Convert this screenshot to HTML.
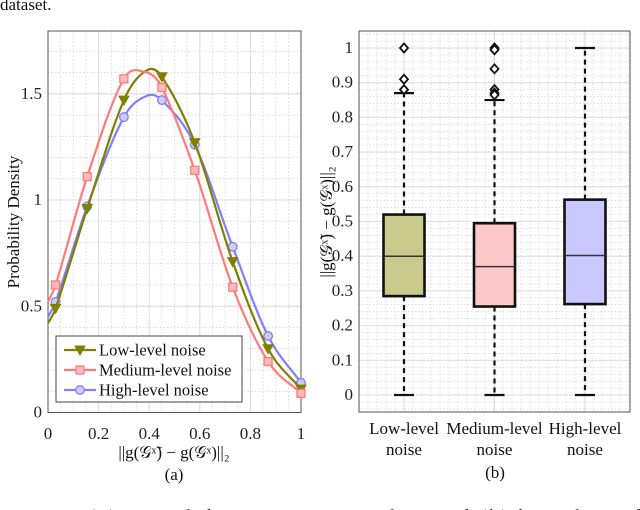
<!DOCTYPE html>
<html><head><meta charset="utf-8">
<style>
body{margin:0;background:#fff;}
svg{display:block;}
svg text{font-family:"Liberation Serif","DejaVu Serif",serif;}
</style></head>
<body>
<svg id="fig" width="640" height="510" viewBox="0 0 640 510" font-family="Liberation Serif, serif">
<text x="0" y="10" font-size="17" fill="#111">dataset.</text>
<g id="left"></g>
<g id="right"></g>
<text x="0" y="521" font-size="17" fill="#111" textLength="640" lengthAdjust="spacing">Fig. 10. (a) Kernel density estimate plots and (b) box plots of</text>
</svg>
<script>
// ---- KDE chart data ----
const kdeX = [0, 0.03, 0.155, 0.30, 0.39, 0.45, 0.58, 0.73, 0.87, 1.0];
const lowKde = [0.42, 0.49, 0.96, 1.47, 1.61, 1.58, 1.27, 0.71, 0.30, 0.11];
const medKde = [0.52, 0.60, 1.11, 1.57, 1.60, 1.53, 1.14, 0.59, 0.24, 0.09];
const highKde = [0.45, 0.52, 0.97, 1.39, 1.49, 1.47, 1.26, 0.78, 0.36, 0.14];
const markerIdx = [1, 2, 3, 5, 6, 7, 8, 9];
const kdeXTicks = [0, 0.2, 0.4, 0.6, 0.8, 1];
const kdeXTickLabels = ["0", "0.2", "0.4", "0.6", "0.8", "1"];
const kdeYTicks = [0, 0.5, 1, 1.5];
const kdeYTickLabels = ["0", "0.5", "1", "1.5"];
const seriesNames = ["Low-level noise", "Medium-level noise", "High-level noise"];

// ---- Box chart data ----
const boxCats = [["Low-level", "noise"], ["Medium-level", "noise"], ["High-level", "noise"]];
const boxQ1 = [0.285, 0.255, 0.262];
const boxMed = [0.40, 0.37, 0.402];
const boxQ3 = [0.52, 0.495, 0.563];
const boxLo = [0, 0, 0];
const boxHi = [0.87, 0.85, 1.0];
const boxOut = [[1.0, 0.91, 0.88], [1.0, 0.995, 0.94, 0.88, 0.87, 0.865], []];
const boxYTicks = [0, 0.1, 0.2, 0.3, 0.4, 0.5, 0.6, 0.7, 0.8, 0.9, 1];
const boxYTickLabels = ["0", "0.1", "0.2", "0.3", "0.4", "0.5", "0.6", "0.7", "0.8", "0.9", "1"];

const NS = "http://www.w3.org/2000/svg";
const FF = "Liberation Serif, DejaVu Serif, serif";
function mk(parent, tag, attrs, text) {
  const e = document.createElementNS(NS, tag);
  for (const k in attrs) e.setAttribute(k, attrs[k]);
  if (tag === "text") e.setAttribute("font-family", FF);
  if (text !== undefined) e.textContent = text;
  parent.appendChild(e);
  return e;
}

// ===== Left chart =====
const L = document.getElementById("left");
const lx0 = 48, lx1 = 301, ly0 = 412.5, lyTop = 31;
const lsx = v => lx0 + v * (lx1 - lx0);
const lsy = v => ly0 - v * 212.5;
for (let v = 0.05; v < 1; v += 0.05) {
  const g = mk(L, "line", {x1: lsx(v), x2: lsx(v), y1: lyTop, y2: ly0, stroke: "#cfcfcf", "stroke-width": 0.7, "stroke-dasharray": "1.5,2"});
  
  
}
for (let v = 0.1; v < 1.79; v += 0.1) {
  const g = mk(L, "line", {x1: lx0, x2: lx1, y1: lsy(v), y2: lsy(v), stroke: "#cfcfcf", "stroke-width": 0.7, "stroke-dasharray": "1.5,2"});
  
  
}
kdeXTicks.forEach((v, i) => {
  const g = mk(L, "line", {x1: lsx(v), x2: lsx(v), y1: lyTop, y2: ly0, stroke: "#dcdcdc", "stroke-width": 1});
  
  
  const t = mk(L, "text", {x: lsx(v), y: 439, "font-size": 17, "text-anchor": "middle", fill: "#222"}, kdeXTickLabels[i]);
  
  
});
kdeYTicks.forEach((v, i) => {
  const g = mk(L, "line", {x1: lx0, x2: lx1, y1: lsy(v), y2: lsy(v), stroke: "#dcdcdc", "stroke-width": 1});
  
  
  const t = mk(L, "text", {x: 42, y: lsy(v) + 5, "font-size": 17, "text-anchor": "end", fill: "#222"}, kdeYTickLabels[i]);
  
  
});
const lframe = mk(L, "rect", {x: lx0, y: lyTop, width: lx1 - lx0, height: ly0 - lyTop, fill: "none", stroke: "#555", "stroke-width": 1});



function smoothPath(xs, ys) {
  const n = xs.length;
  const m = xs.map((x, i) => {
    const a = Math.max(0, i - 1), b = Math.min(n - 1, i + 1);
    return (ys[b] - ys[a]) / (xs[b] - xs[a]);
  });
  let d = "M" + lsx(xs[0]) + "," + lsy(ys[0]);
  for (let i = 0; i < n - 1; i++) {
    const h = xs[i + 1] - xs[i];
    const c1x = xs[i] + h / 3, c1y = ys[i] + m[i] * h / 3;
    const c2x = xs[i + 1] - h / 3, c2y = ys[i + 1] - m[i + 1] * h / 3;
    d += ` C${lsx(c1x)},${lsy(c1y)} ${lsx(c2x)},${lsy(c2y)} ${lsx(xs[i + 1])},${lsy(ys[i + 1])}`;
  }
  return d;
}
function marker(parent, type, x, y, color) {
  let m;
  if (type === "tri") m = mk(parent, "path", {d: `M${x-5},${y-4} L${x+5},${y-4} L${x},${y+5} Z`, fill: color, stroke: color, "stroke-width": 1});
  else if (type === "sq") m = mk(parent, "rect", {x: x - 4, y: y - 4, width: 8, height: 8, fill: "#fbb", stroke: color, "stroke-width": 1.3});
  else m = mk(parent, "circle", {cx: x, cy: y, r: 4.3, fill: "#ccf", stroke: color, "stroke-width": 1.3});
  return m;
}
const seriesData = [lowKde, medKde, highKde];
const seriesColor = ["#808000", "#ff7b7b", "#7f7fff"];
const seriesMarker = ["tri", "sq", "circ"];
const drawOrder = [2, 0, 1];
drawOrder.forEach(s => {
  const g = mk(L, "g", {});
  
  
  const path = mk(g, "path", {d: smoothPath(kdeX, seriesData[s]), fill: "none", stroke: seriesColor[s], "stroke-width": 2.2});
  
  
  markerIdx.forEach(i => {
    const m = marker(g, seriesMarker[s], lsx(kdeX[i]), lsy(seriesData[s][i]), seriesColor[s]);
    
    
  });
});
const lg = mk(L, "g", {});


mk(lg, "rect", {x: 56, y: 336, width: 186, height: 66, fill: "#fff", stroke: "#444", "stroke-width": 1});
seriesNames.forEach((n, s) => {
  const y = 350 + s * 20;
  const e = mk(lg, "g", {});
  
  
  mk(e, "line", {x1: 64, x2: 96, y1: y, y2: y, stroke: seriesColor[s], "stroke-width": 2.2});
  marker(e, seriesMarker[s], 80, y, seriesColor[s]);
  mk(e, "text", {x: 99, y: y + 5.5, "font-size": 16.5, fill: "#111"}, n);
});
const ylab = mk(L, "text", {x: 0, y: 0, "font-size": 17, "text-anchor": "middle", fill: "#111", transform: "translate(19,222) rotate(-90)"}, "Probability Density");


const xlab = mk(L, "text", {x: 174, y: 458, "font-size": 17, "text-anchor": "middle", fill: "#111"}, "||g(𝒢ˣ̃) − g(𝒢ˣ)||₂");


const capA = mk(L, "text", {x: 174, y: 480, "font-size": 17, "text-anchor": "middle", fill: "#111"}, "(a)");



// ===== Right chart =====
const R = document.getElementById("right");
const rx0 = 359, rx1 = 630, rTop = 31, rBot = 412;
const ry = v => 395 - v * 347;
const catX = i => 404 + i * 90.5;
for (let x = rx0 + 9; x < rx1; x += 9) {
  const g = mk(R, "line", {x1: x, x2: x, y1: rTop, y2: rBot, stroke: "#d2d2d2", "stroke-width": 0.7, "stroke-dasharray": "1.5,2"});
  
  
}
for (let v = -0.04; v < 1.06; v += 0.02) {
  const g = mk(R, "line", {x1: rx0, x2: rx1, y1: ry(v), y2: ry(v), stroke: "#d2d2d2", "stroke-width": 0.7, "stroke-dasharray": "1.5,2"});
  
  
}
boxYTicks.forEach((v, i) => {
  const g = mk(R, "line", {x1: rx0, x2: rx1, y1: ry(v), y2: ry(v), stroke: "#dcdcdc", "stroke-width": 1});
  
  
  const t = mk(R, "text", {x: 353, y: ry(v) + 5, "font-size": 17, "text-anchor": "end", fill: "#222"}, boxYTickLabels[i]);
  
  
});
boxCats.forEach((c, i) => {
  const g = mk(R, "line", {x1: catX(i), x2: catX(i), y1: rTop, y2: rBot, stroke: "#dcdcdc", "stroke-width": 1});
  
  
  const t1 = mk(R, "text", {x: catX(i), y: 434, "font-size": 17, "text-anchor": "middle", fill: "#111"}, c[0]);
  
  
  const t2 = mk(R, "text", {x: catX(i), y: 455, "font-size": 17, "text-anchor": "middle", fill: "#111"}, c[1]);
  
  
});
const rframe = mk(R, "rect", {x: rx0, y: rTop, width: rx1 - rx0, height: rBot - rTop, fill: "none", stroke: "#555", "stroke-width": 1});


const boxFill = ["#c9c98c", "#ffc8c8", "#c8c8ff"];
boxCats.forEach((c, i) => {
  const x = catX(i), hw = 20.5;
  const g = mk(R, "g", {});
  
  
  mk(g, "line", {x1: x, x2: x, y1: ry(boxQ3[i]), y2: ry(boxHi[i]), stroke: "#111", "stroke-width": 2.2, "stroke-dasharray": "5,4"});
  mk(g, "line", {x1: x, x2: x, y1: ry(boxQ1[i]), y2: ry(boxLo[i]), stroke: "#111", "stroke-width": 2.2, "stroke-dasharray": "5,4"});
  mk(g, "line", {x1: x - 10, x2: x + 10, y1: ry(boxHi[i]), y2: ry(boxHi[i]), stroke: "#111", "stroke-width": 2.2});
  mk(g, "line", {x1: x - 10, x2: x + 10, y1: ry(boxLo[i]), y2: ry(boxLo[i]), stroke: "#111", "stroke-width": 2.2});
  mk(g, "rect", {x: x - hw, y: ry(boxQ3[i]), width: 2 * hw, height: ry(boxQ1[i]) - ry(boxQ3[i]), fill: boxFill[i], stroke: "#111", "stroke-width": 2.6});
  mk(g, "line", {x1: x - hw, x2: x + hw, y1: ry(boxMed[i]), y2: ry(boxMed[i]), stroke: "#333", "stroke-width": 1.5});
  boxOut[i].forEach(v => {
    const d = mk(g, "path", {d: `M${x},${ry(v)-4.5} L${x+4},${ry(v)} L${x},${ry(v)+4.5} L${x-4},${ry(v)} Z`, fill: "#fff", stroke: "#111", "stroke-width": 1.8});
    
    
  });
});
const rylab = mk(R, "text", {x: 0, y: 0, "font-size": 17, "text-anchor": "middle", fill: "#111", transform: "translate(332,222) rotate(-90)"}, "||g(𝒢ˣ̃) − g(𝒢ˣ)||₂");


const capB = mk(R, "text", {x: 495, y: 478, "font-size": 17, "text-anchor": "middle", fill: "#111"}, "(b)");


</script>
</body></html>
